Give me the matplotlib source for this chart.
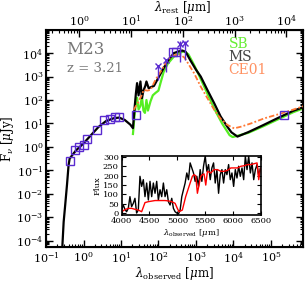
import matplotlib
matplotlib.use('Agg')
import matplotlib.pyplot as plt
import numpy as np

plt.rcParams['font.family'] = 'DejaVu Serif'
plt.rcParams['mathtext.fontset'] = 'dejavuserif'

# SED templates (log10 lambda_obs [um], log10 F_nu [uJy])
ms_logl = [-0.57, -0.53, -0.49, -0.44, -0.40, -0.37, -0.30, -0.2, 0.0, 0.2, 0.4, 0.6, 0.8, 0.95,
           1.1, 1.25, 1.32, 1.36, 1.40, 1.43, 1.47, 1.52, 1.56, 1.60, 1.65, 1.68, 1.74, 1.80,
           1.88, 2.0, 2.1, 2.24, 2.41, 2.55, 2.64, 2.73, 2.85, 3.0, 3.13, 3.3, 3.49, 3.66,
           3.84, 3.95, 4.11, 4.4, 4.8, 5.2, 5.6, 5.88]
ms_logf = [-4.4, -3.2, -2.5, -1.6, -0.8, -0.5, -0.35, -0.15, 0.15, 0.5, 0.85, 1.1, 1.22, 1.25,
           1.15, 0.95, 0.8, 1.6, 2.3, 2.72, 2.2, 2.79, 2.08, 2.4, 2.6, 2.79, 2.5, 2.55,
           2.6, 2.95, 3.25, 3.64, 4.0, 4.08, 4.11, 4.05, 3.7, 3.3, 3.0, 2.45, 1.86, 1.3,
           0.86, 0.62, 0.44, 0.63, 0.93, 1.24, 1.54, 1.70]

sb_logl = [1.32, 1.36, 1.40, 1.43, 1.47, 1.52, 1.56, 1.60, 1.64, 1.68, 1.72, 1.79, 1.85, 1.92,
           2.0, 2.06, 2.14, 2.25, 2.41, 2.55, 2.68, 2.8, 2.95, 3.1, 3.3, 3.5, 3.7, 3.9, 3.98,
           4.1, 4.4, 4.8, 5.2, 5.6, 5.88]
sb_logf = [0.55, 1.3, 1.9, 2.1, 1.6, 1.75, 2.15, 1.55, 1.45, 2.0, 1.55, 1.95, 2.2, 2.3,
           2.4, 2.75, 3.2, 3.55, 3.85, 4.0, 4.08, 3.95, 3.5, 3.0, 2.3, 1.6, 1.0, 0.5, 0.42,
           0.47, 0.6, 0.88, 1.18, 1.48, 1.65]

ce_logl = [1.34, 1.39, 1.47, 1.55, 1.61, 1.70, 1.79, 1.92, 2.06, 2.24, 2.40, 2.52, 2.59, 2.70,
           2.95, 3.13, 3.30, 3.49, 3.66, 3.84, 4.02, 4.2, 4.47, 4.83, 5.35, 5.88]
ce_logf = [1.58, 1.72, 1.93, 2.2, 2.43, 2.4, 2.43, 2.86, 3.21, 3.71, 3.9, 3.95, 3.93, 3.8,
           3.15, 2.57, 2.1, 1.58, 1.2, 0.94, 0.79, 0.86, 1.0, 1.22, 1.46, 1.74]

# photometry
sq_logl = [-0.36, -0.22, -0.11, 0.0, 0.09, 0.35, 0.55, 0.7, 0.85, 0.95, 1.39, 2.38, 2.48, 5.35]
sq_logf = [-0.6, -0.15, 0.0, 0.1, 0.33, 0.7, 1.13, 1.2, 1.26, 1.29, 1.34, 4.03, 4.06, 1.36]
x_logl = [1.98, 2.19, 2.57, 2.70]
x_logf = [3.43, 3.70, 4.38, 4.45]
x_lo = [2.85, 3.21, 3.64, 3.72]
x_hi = [3.50, 3.71, 4.50, 4.50]

# inset spectrum
spec_wl = [4000, 4030, 4060, 4090, 4120, 4150, 4180, 4210, 4240, 4270, 4300, 4330, 4360, 4390,
           4420, 4450, 4480, 4510, 4540, 4570, 4600, 4630, 4660, 4690, 4720, 4750, 4780, 4810,
           4840, 4870, 4900, 4930, 4960, 4990, 5020, 5050, 5080, 5110, 5140, 5170, 5200, 5230,
           5260, 5290, 5320, 5350, 5380, 5410, 5440, 5470, 5500, 5530, 5560, 5590, 5620, 5650,
           5680, 5710, 5740, 5770, 5800, 5830, 5860, 5890, 5920, 5950, 5980, 6010, 6040, 6070,
           6100, 6130, 6160, 6190, 6220, 6250, 6280, 6310, 6340, 6370, 6400, 6430, 6460, 6490]
spec_f = [16, 43, 20, 7, 25, 88, 34, 52, 79, 0, 16, 197, 143, 179, 88, 161, 70, 170, 88, 161,
          106, 170, 70, 125, 88, 161, 88, 125, 61, 43, 79, 25, 7, 0, -5, 16, 88, 125, 161, 215,
          179, 269, 242, 215, 170, 197, 143, 233, 170, 251, 305, 224, 260, 179, 242, 269, 161,
          233, 106, 206, 233, 161, 233, 206, 260, 179, 215, 143, 233, 188, 251, 197, 242, 179,
          305, 233, 305, 215, 269, 179, 233, 260, 200, 240]
model_wl = [4000, 4060, 4120, 4180, 4240, 4300, 4360, 4420, 4480, 4540, 4600, 4660, 4720, 4780,
            4840, 4900, 4960, 5000, 5030, 5090, 5150, 5210, 5270, 5300, 5330, 5360, 5420,
            5450, 5480, 5510, 5540, 5600, 5660, 5720, 5780, 5840, 5900, 5960, 6020, 6080,
            6140, 6200, 6260, 6320, 6380, 6430, 6460, 6490]
model_f = [7, 18, 25, 25, 20, 16, 7, 56, 61, 64, 67, 67, 67, 67, 65, 61, 52, 25, 7, 16, 88,
           143, 197, 206, 200, 106, 197, 206, 210, 150, 224, 215, 233, 233, 224, 224, 229,
           242, 242, 242, 251, 254, 260, 260, 265, 269, 179, 240]

purple = '#5a2bd0'

fig = plt.figure(figsize=(3.07, 2.84), dpi=100)
ax = fig.add_axes([0.150, 0.132, 0.837, 0.761])

ax.plot(10**np.array(ms_logl), 10**np.array(ms_logf), color='black', lw=1.6, zorder=3)
ax.plot(10**np.array(sb_logl), 10**np.array(sb_logf), color='#55ee22', lw=1.6, zorder=2)
ax.plot(10**np.array(ce_logl), 10**np.array(ce_logf), color='#ff7733', lw=1.3,
        ls=(0, (3, 1.2, 1, 1.2)), zorder=4)

ax.plot(10**np.array(sq_logl), 10**np.array(sq_logf), 's', ms=6, mfc='none',
        mec=purple, mew=1.0, zorder=5)
xv = 10**np.array(x_logf)
yerr = [xv - 10**np.array(x_lo), 10**np.array(x_hi) - xv]
ax.errorbar(10**np.array(x_logl), xv, yerr=yerr, fmt='x', color=purple, ms=4,
            mew=1.0, elinewidth=1.0, capsize=0, zorder=5)

ax.set_xscale('log')
ax.set_yscale('log')
ax.set_xlim(0.1, 10**5.86)
ax.set_ylim(10**-4.25, 10**4.97)
ax.set_xticks([10.0**k for k in range(-1, 6)])
ax.set_yticks([10.0**k for k in range(-4, 5)])
ax.tick_params(which='both', direction='in', right=True, labelsize=8)
ax.tick_params(which='major', length=5, width=1)
ax.tick_params(which='minor', length=2.5, width=0.8)
ax.tick_params(axis='x', which='both', top=False, pad=3)
ax.tick_params(axis='y', pad=2)
for s in ax.spines.values():
    s.set_linewidth(1.5)
ax.set_xlabel(r'$\lambda_{\rm observed}$ [$\mu$m]', fontsize=8.5, labelpad=0)
ax.set_ylabel(r'F$_\nu$ [$\mu$Jy]', fontsize=8.5, labelpad=0)

top = ax.twiny()
top.set_xscale('log')
top.set_xlim(10**-0.64, 10**4.32)
top.set_xticks([10.0**k for k in range(0, 5)])
top.tick_params(which='both', direction='in', labelsize=8, pad=1.5)
top.tick_params(which='major', length=5, width=1)
top.tick_params(which='minor', length=2.5, width=0.8)
top.set_xlabel(r'$\lambda_{\rm rest}$ [$\mu$m]', fontsize=8.5, labelpad=1)
top.xaxis.set_label_coords(0.53, 1.09)

ax.text(0.08, 0.91, 'M23', transform=ax.transAxes, fontsize=12, color='#777777',
        va='center')
ax.text(0.08, 0.825, 'z = 3.21', transform=ax.transAxes, fontsize=9.5, color='#777777',
        va='center')
ax.text(0.71, 0.935, 'SB', transform=ax.transAxes, fontsize=10, color='#66ee33', va='center')
ax.text(0.71, 0.875, 'MS', transform=ax.transAxes, fontsize=10, color='#444444', va='center')
ax.text(0.71, 0.815, 'CE01', transform=ax.transAxes, fontsize=10, color='#ff9060', va='center')

ins = fig.add_axes([0.396, 0.244, 0.454, 0.206])
ins.plot(spec_wl, spec_f, color='black', lw=1.0)
ins.plot(model_wl, model_f, color='red', lw=1.0)
ins.set_xlim(4000, 6500)
ins.set_ylim(-9, 305)
ins.set_xticks([4000, 4500, 5000, 5500, 6000, 6500])
ins.set_yticks([0, 50, 100, 150, 200, 250, 300])
ins.tick_params(direction='in', labelsize=6, length=3, pad=2, top=True, right=True)
for s in ins.spines.values():
    s.set_linewidth(1.2)
ins.set_ylabel('Flux', fontsize=6, labelpad=1)
ins.set_xlabel(r'$\lambda_{\rm observed}$ [$\mu$m]', fontsize=6, labelpad=1)

fig.savefig('out.png', dpi=100)
